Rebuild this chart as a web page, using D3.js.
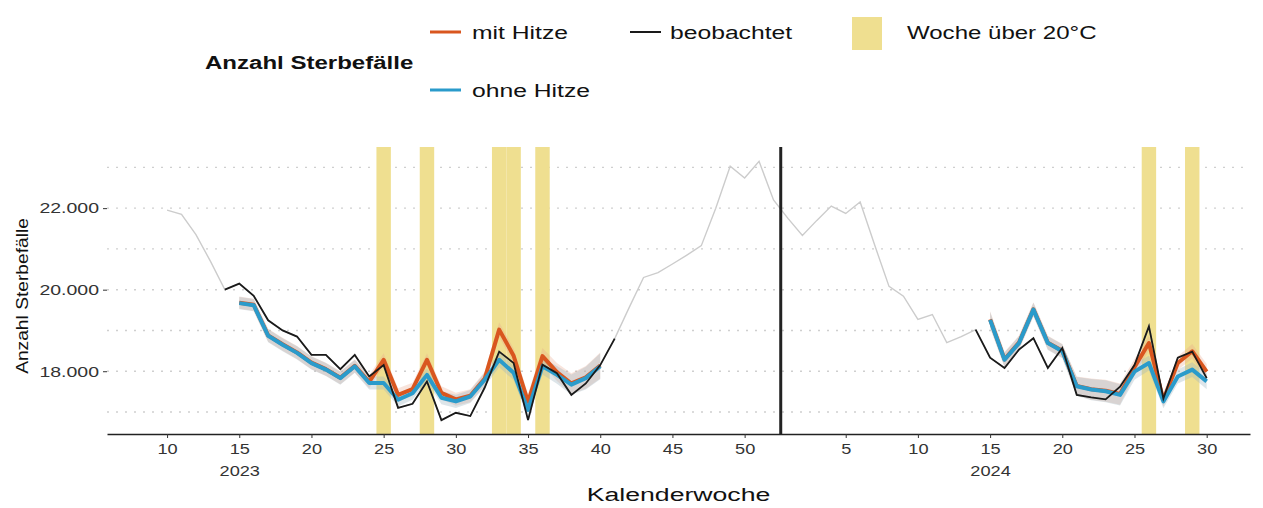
<!DOCTYPE html>
<html>
<head>
<meta charset="utf-8">
<script src="https://cdn.jsdelivr.net/npm/d3@7"></script>
<style>
  body { margin: 0; background: #fff; }
  text { font-family: "Liberation Sans", Arial, sans-serif; }
</style>
</head>
<body>
<div id="chart"></div>
<script>
var width = 1263,
    height = 508,
    sx = 1.3; // the original text is a bit stretched sideways

// Kalenderwochen
var weeks2023 = [10, 11, 12, 13, 14, 15, 16, 17, 18, 19, 20, 21, 22, 23, 24, 25, 26, 27, 28, 29, 30,
                 31, 32, 33, 34, 35, 36, 37, 38, 39, 40, 41, 42, 43, 44, 45, 46, 47, 48, 49, 50, 51, 52];
var weeks2024 = [1, 2, 3, 4, 5, 6, 7, 8, 9, 10, 11, 12, 13, 14, 15, 16, 17, 18, 19, 20,
                 21, 22, 23, 24, 25, 26, 27, 28, 29, 30];

// beobachtet
var observed2023 = [21950, 21850, 21350, 20700, 20000, 20150, 19850, 19250, 19000, 18850, 18400, 18400,
                    18050, 18400, 17870, 18150, 17100, 17200, 17750, 16800, 16980, 16900, 17600, 18480,
                    18200, 16800, 18160, 17950, 17420, 17700, 18150, 18800, 19560, 20300, 20420, 20630,
                    20850, 21080, 22000, 23030, 22740, 23150, 22200];
var observed2024 = [21750, 21330, 21700, 22050, 21870, 22150, 21100, 20080, 19840, 19270, 19390, 18700,
                    18850, 19020, 18330, 18080, 18530, 18810, 18080, 18570, 17420, 17360, 17310, 17620,
                    18150, 19100, 17330, 18330, 18480, 17830];
var observedFrom = 14; // black from this week on (both years)
var observedTo2023 = 41;

// model weeks
var modelWeeks2023 = [15, 16, 17, 18, 19, 20, 21, 22, 23, 24, 25, 26, 27, 28, 29, 30, 31, 32, 33, 34, 35,
                      36, 37, 38, 39, 40];
var modelWeeks2024 = [15, 16, 17, 18, 19, 20, 21, 22, 23, 24, 25, 26, 27, 28, 29, 30];

var ohneHitze2023 = [19670, 19620, 18870, 18650, 18450, 18200, 18040, 17830, 18120, 17710, 17710, 17300,
                     17460, 17910, 17350, 17260, 17380, 17790, 18280, 17960, 17050, 18120, 17910, 17670,
                     17830, 18120];
var mitHitze2023 = [19680, 19630, 18880, 18660, 18460, 18210, 18050, 17840, 18130, 17740, 18280, 17420,
                    17560, 18280, 17470, 17310, 17400, 17820, 19020, 18380, 17250, 18370, 17980, 17700,
                    17850, 18140];
var ci2023 = [150, 150, 160, 160, 160, 160, 160, 160, 160, 160, 160, 160, 160, 160, 160, 160, 160, 170,
              180, 180, 190, 200, 220, 250, 280, 320];

var ohneHitze2024 = [19260, 18280, 18690, 19510, 18690, 18490, 17630, 17550, 17510, 17420, 17990, 18200,
                     17260, 17870, 18040, 17750];
var mitHitze2024 = [19270, 18290, 18700, 19520, 18700, 18500, 17640, 17560, 17520, 17440, 18100, 18690,
                    17300, 18200, 18490, 17990];
var ci2024 = [200, 180, 170, 170, 170, 170, 230, 260, 270, 260, 200, 180, 170, 170, 180, 190];

// Woche über 20°C
var heat2023 = [25, 28, 33, 34, 36];
var heat2024 = [26, 29];

var xTicks2023 = [10, 15, 20, 25, 30, 35, 40, 45, 50];
var xTicks2024 = [5, 10, 15, 20, 25, 30];
var yTicks = [18000, 20000, 22000];
var yGrid = [17000, 18000, 19000, 20000, 21000, 22000, 23000];

var colMit = "#d9561f",
    colOhne = "#2a9bcb",
    colObs = "#1a1a1a",
    colGray = "#cccccc",
    colHeat = "#efdf90";

// continuous week index: 2024 continues after KW52 of 2023
function t(year, w) { return year === 2023 ? w : 52 + w; }

var svg = d3.select("#chart").append("svg")
    .attr("width", width)
    .attr("height", height);

var x = d3.scaleLinear().domain([5.84, 85.0]).range([107, 1250]);
var y = d3.scaleLinear().domain([16460, 23500]).range([434, 147]);
var bw = x(1) - x(0);

var de = d3.formatLocale({ decimal: ",", thousands: ".", grouping: [3], currency: ["", "€"] });
var fmt = de.format(",");

function stretch(sel, px, py, k) {
    sel.attr("transform", "translate(" + px + "," + py + ") scale(" + (k || sx) + ",1)");
}

// grid
svg.append("g").selectAll("line")
    .data(yGrid)
    .enter().append("line")
    .attr("x1", 107).attr("x2", 1250)
    .attr("y1", y).attr("y2", y)
    .attr("stroke", "#cfcfcf")
    .attr("stroke-width", 1.4)
    .attr("stroke-dasharray", "2 7");

// heat weeks
var heat = heat2023.map(function (w) { return t(2023, w); })
    .concat(heat2024.map(function (w) { return t(2024, w); }));
svg.append("g").selectAll("rect")
    .data(heat)
    .enter().append("rect")
    .attr("x", function (d) { return x(d - 0.5); })
    .attr("width", bw)
    .attr("y", y.range()[1])
    .attr("height", y.range()[0] - y.range()[1])
    .attr("fill", colHeat);

// observed series as points
var obs = weeks2023.map(function (w, i) { return { t: t(2023, w), year: 2023, w: w, v: observed2023[i] }; })
    .concat(weeks2024.map(function (w, i) { return { t: t(2024, w), year: 2024, w: w, v: observed2024[i] }; }));

var line = d3.line().x(function (d) { return x(d.t); }).y(function (d) { return y(d.v); });

svg.append("path")
    .datum(obs)
    .attr("d", line)
    .attr("fill", "none")
    .attr("stroke", colGray)
    .attr("stroke-width", 1.4);

function model(year, wk, ohne, mit, ci) {
    return wk.map(function (w, i) {
        return { t: t(year, w), ohne: ohne[i], mit: mit[i], ci: ci[i] };
    });
}
var models = [
    model(2023, modelWeeks2023, ohneHitze2023, mitHitze2023, ci2023),
    model(2024, modelWeeks2024, ohneHitze2024, mitHitze2024, ci2024)
];

models.forEach(function (m) {
    var areaMit = d3.area()
        .x(function (d) { return x(d.t); })
        .y0(function (d) { return y(d.mit - d.ci); })
        .y1(function (d) { return y(d.mit + d.ci); });
    var areaOhne = d3.area()
        .x(function (d) { return x(d.t); })
        .y0(function (d) { return y(d.ohne - d.ci); })
        .y1(function (d) { return y(d.ohne + d.ci); });

    svg.append("path").datum(m).attr("d", areaMit)
        .attr("fill", "#e8a58a").attr("opacity", 0.3);
    svg.append("path").datum(m).attr("d", areaOhne)
        .attr("fill", "#9fb4c0").attr("opacity", 0.35);

    svg.append("path").datum(m)
        .attr("d", d3.line().x(function (d) { return x(d.t); }).y(function (d) { return y(d.mit); }))
        .attr("fill", "none").attr("stroke", colMit).attr("stroke-width", 4)
        .attr("stroke-linejoin", "round");
    svg.append("path").datum(m)
        .attr("d", d3.line().x(function (d) { return x(d.t); }).y(function (d) { return y(d.ohne); }))
        .attr("fill", "none").attr("stroke", colOhne).attr("stroke-width", 4)
        .attr("stroke-linejoin", "round");
});

// observed in black where the model runs
var black2023 = obs.filter(function (d) { return d.year === 2023 && d.w >= observedFrom && d.w <= observedTo2023; });
var black2024 = obs.filter(function (d) { return d.year === 2024 && d.w >= observedFrom; });
[black2023, black2024].forEach(function (seg) {
    svg.append("path").datum(seg)
        .attr("d", line)
        .attr("fill", "none")
        .attr("stroke", colObs)
        .attr("stroke-width", 1.8);
});

// year boundary
svg.append("line")
    .attr("x1", x(52.5)).attr("x2", x(52.5))
    .attr("y1", y.range()[1]).attr("y2", y.range()[0])
    .attr("stroke", "#222")
    .attr("stroke-width", 3);

// x axis
var xTickT = xTicks2023.map(function (w) { return t(2023, w); })
    .concat(xTicks2024.map(function (w) { return t(2024, w); }));
var xAxis = svg.append("g")
    .attr("transform", "translate(0,434)")
    .call(d3.axisBottom(x)
        .tickValues(xTickT)
        .tickSize(4)
        .tickPadding(6)
        .tickSizeOuter(0)
        .tickFormat(function (d) { return d > 52 ? d - 52 : d; }));
xAxis.select(".domain").attr("stroke", "#222").attr("stroke-width", 1.6);
xAxis.selectAll(".tick line").attr("stroke", "#333");
xAxis.selectAll(".tick text")
    .attr("fill", "#333")
    .attr("font-size", 14)
    .attr("font-family", "Liberation Sans, Arial, sans-serif")
    .attr("transform", "scale(" + sx + ",1)");

xAxis.selectAll(".tick")
    .filter(function (d) { return d === 15 || d === 67; })
    .append("text")
    .attr("y", 32)
    .attr("dy", "0.71em")
    .attr("fill", "#333")
    .attr("font-size", 14)
    .attr("text-anchor", "middle")
    .attr("transform", "scale(" + sx + ",1)")
    .text(function (d) { return d > 52 ? "2024" : "2023"; });

// y axis
var yAxis = svg.append("g")
    .attr("transform", "translate(107,0)")
    .call(d3.axisLeft(y).tickValues(yTicks).tickSize(4).tickPadding(4).tickFormat(fmt));
yAxis.select(".domain").remove();
yAxis.selectAll(".tick line").attr("stroke", "#333");
yAxis.selectAll(".tick text")
    .attr("fill", "#333")
    .attr("font-size", 15)
    .attr("font-family", "Liberation Sans, Arial, sans-serif")
    .attr("x", -8 / sx)
    .attr("transform", "scale(" + sx + ",1)");

// axis titles
svg.append("text")
    .attr("text-anchor", "middle")
    .attr("font-size", 16)
    .attr("fill", "#111")
    .attr("transform", "translate(28,296) rotate(-90) scale(1.2,1)")
    .text("Anzahl Sterbefälle");

svg.append("text")
    .attr("text-anchor", "middle")
    .attr("font-size", 18)
    .attr("fill", "#111")
    .call(stretch, (x.range()[0] + x.range()[1]) / 2, 501, 1.48)
    .text("Kalenderwoche");

// legend
var legend = svg.append("g");
legend.append("text")
    .attr("font-size", 18.5)
    .attr("font-weight", "bold")
    .attr("fill", "#111")
    .call(stretch, 205, 69)
    .text("Anzahl Sterbefälle");

var legendLines = [
    { label: "mit Hitze", color: colMit, w: 3, x: 430, y: 32 },
    { label: "beobachtet", color: colObs, w: 2, x: 630, y: 32 },
    { label: "ohne Hitze", color: colOhne, w: 3, x: 430, y: 90 }
];
var li = legend.selectAll(".li")
    .data(legendLines)
    .enter().append("g")
    .attr("transform", function (d) { return "translate(" + d.x + "," + d.y + ")"; });
li.append("line")
    .attr("x1", 0).attr("x2", 31)
    .attr("stroke", function (d) { return d.color; })
    .attr("stroke-width", function (d) { return d.w; });
li.append("text")
    .attr("font-size", 19)
    .attr("fill", "#111")
    .attr("dy", "0.35em")
    .attr("transform", function (d) { return "translate(" + (d.x === 630 ? 40 : 42) + ",0) scale(" + sx + ",1)"; })
    .text(function (d) { return d.label; });

legend.append("rect")
    .attr("x", 852).attr("y", 17)
    .attr("width", 30).attr("height", 33)
    .attr("fill", colHeat);
legend.append("text")
    .attr("font-size", 18.5)
    .attr("fill", "#111")
    .attr("dy", "0.35em")
    .call(stretch, 907, 33)
    .text("Woche über 20°C");
</script>
</body>
</html>
